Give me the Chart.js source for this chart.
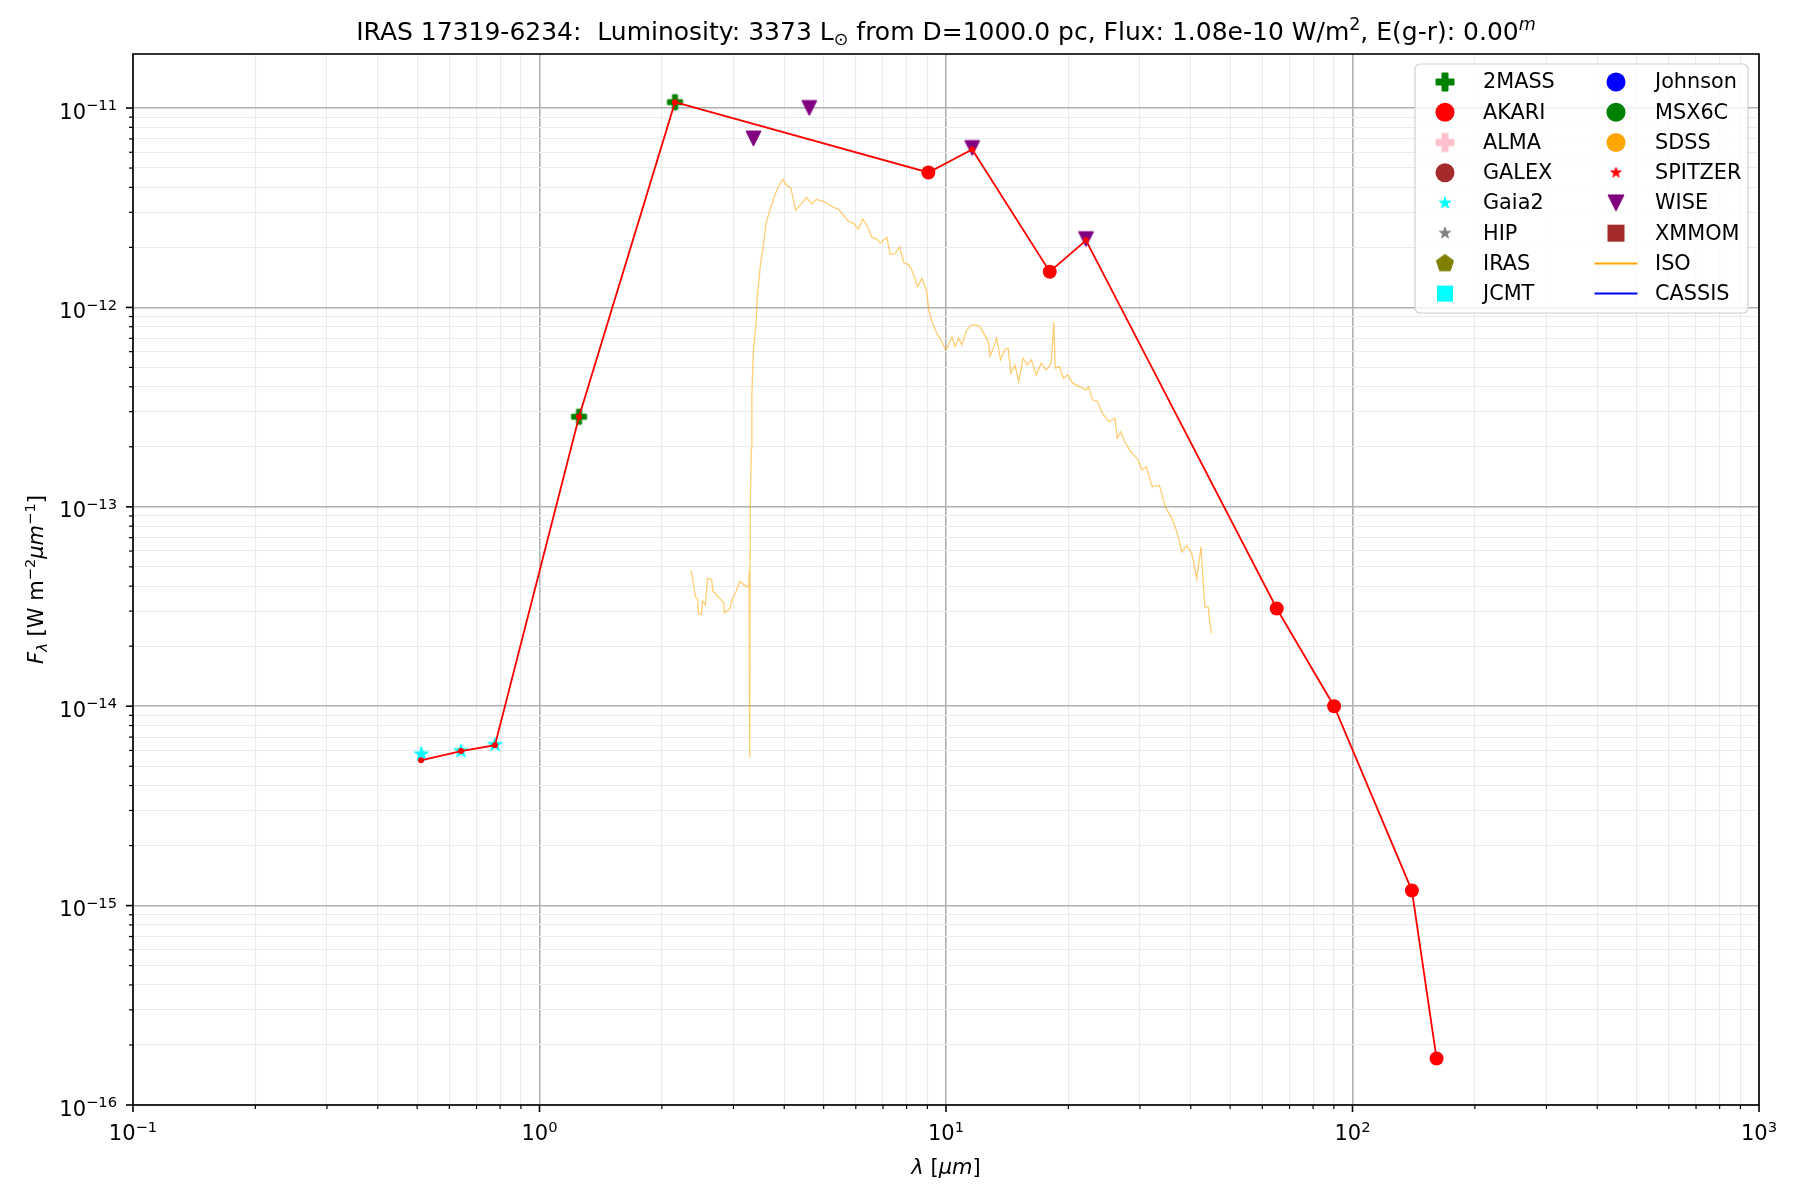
<!DOCTYPE html>
<html>
<head>
<meta charset="utf-8">
<script src="https://cdn.jsdelivr.net/npm/chart.js@4.4.0/dist/chart.umd.min.js"></script>
<style>
  body { margin: 0; background: #fff; }
  canvas { display: block; }
</style>
</head>
<body>
<canvas id="chart" width="1800" height="1200"></canvas>
<script>
// ---- data (wavelength in micron, flux in W m^-2 um^-1) ----
const sedWave = [0.511, 0.641, 0.777, 1.251, 2.154, 9.05, 11.6, 18.0, 22.1, 65.1, 90.1, 140, 161];
const sedFlux = [5.35e-15, 5.96e-15, 6.38e-15, 2.83e-13, 1.07e-11, 4.75e-12, 6.2e-12, 1.51e-12, 2.17e-12, 3.09e-14, 1.0e-14, 1.19e-15, 1.71e-16];

const tmassWave = [1.251, 2.154];
const tmassFlux = [2.83e-13, 1.07e-11];

const akariWave = [9.05, 18.0, 65.1, 90.1, 140, 161];
const akariFlux = [4.75e-12, 1.51e-12, 3.09e-14, 1.0e-14, 1.19e-15, 1.71e-16];

const gaiaWave = [0.512, 0.641, 0.777];
const gaiaFlux = [5.75e-15, 5.96e-15, 6.41e-15];

const wiseWave = [3.36, 4.61, 11.6, 22.1];
const wiseFlux = [7.03e-12, 1.0e-11, 6.3e-12, 2.2e-12];

const isoWave = [2.36, 2.39, 2.42, 2.45, 2.46, 2.50, 2.52, 2.56, 2.59, 2.65, 2.67, 2.84, 2.85, 2.94, 2.98,
  3.05, 3.11, 3.19, 3.27, 3.28, 3.29, 3.295, 3.30, 3.32, 3.33, 3.36, 3.38, 3.41, 3.43, 3.47, 3.50, 3.55,
  3.61, 3.68, 3.79, 3.88, 3.97, 4.05, 4.15, 4.27, 4.37, 4.54, 4.67, 4.80, 4.99, 5.13, 5.28, 5.43, 5.59,
  5.75, 5.92, 6.09, 6.24, 6.38, 6.57, 6.76, 6.89, 7.15, 7.29, 7.50, 7.69, 7.87, 8.09, 8.25, 8.52, 8.73,
  8.95, 9.07, 9.24, 9.51, 9.78, 9.97,
  10.06, 10.34, 10.54, 10.74, 10.94, 11.25, 11.57, 11.79, 12.13, 12.36, 12.71, 12.83, 13.07, 13.32, 13.62,
  13.96, 14.22, 14.44, 14.77, 15.10, 15.47, 15.82, 16.21, 16.68, 17.15, 17.64, 18.15, 18.42, 18.56, 19.01,
  19.45, 19.93, 20.49, 21.28, 22.09, 22.42, 22.93, 23.59, 24.26, 25.18, 26.05, 26.39, 26.89, 27.65, 28.71,
  29.53, 30.37, 31.07, 32.14, 33.49, 34.64, 35.96, 36.99, 38.04, 39.13, 40.24, 41.39, 42.40, 42.95, 43.36,
  44.18, 44.60, 45.02];
const isoFlux = [4.82e-14, 4.14e-14, 3.53e-14, 3.45e-14, 2.94e-14, 2.87e-14, 3.37e-14, 3.22e-14, 4.38e-14, 4.33e-14, 3.78e-14, 3.30e-14, 2.94e-14, 3.08e-14, 3.45e-14,
  3.78e-14, 4.24e-14, 4.05e-14, 3.95e-14, 4.75e-14, 5.55e-15, 5.7e-14, 1.03e-13, 1.96e-13, 3.71e-13, 6.14e-13, 6.88e-13, 8.26e-13, 1.11e-12, 1.40e-12, 1.68e-12, 2.01e-12,
  2.65e-12, 3.04e-12, 3.65e-12, 4.09e-12, 4.38e-12, 4.09e-12, 3.99e-12, 3.06e-12, 3.25e-12, 3.56e-12, 3.31e-12, 3.48e-12, 3.40e-12, 3.31e-12, 3.18e-12, 3.11e-12, 2.90e-12,
  2.71e-12, 2.65e-12, 2.47e-12, 2.77e-12, 2.59e-12, 2.25e-12, 2.20e-12, 2.10e-12, 2.25e-12, 1.84e-12, 1.86e-12, 2.01e-12, 1.68e-12, 1.64e-12, 1.53e-12, 1.27e-12, 1.40e-12,
  1.22e-12, 9.68e-13, 8.45e-13, 7.36e-13, 6.71e-13, 6.13e-13,
  6.25e-13, 7.10e-13, 6.37e-13, 7.02e-13, 6.50e-13, 7.72e-13, 8.18e-13, 8.18e-13, 8.02e-13, 7.43e-13, 6.74e-13, 5.68e-13, 6.25e-13, 7.02e-13, 5.46e-13,
  6.13e-13, 6.25e-13, 4.68e-13, 5.15e-13, 4.25e-13, 5.56e-13, 5.15e-13, 5.46e-13, 4.59e-13, 5.25e-13, 4.86e-13, 5.25e-13, 8.41e-13, 4.96e-13, 5.05e-13,
  4.41e-13, 4.59e-13, 4.17e-13, 4.01e-13, 3.86e-13, 4.01e-13, 3.44e-13, 3.38e-13, 2.94e-13, 2.67e-13, 2.78e-13, 2.20e-13, 2.38e-13, 2.08e-13, 1.85e-13,
  1.75e-13, 1.53e-13, 1.59e-13, 1.26e-13, 1.28e-13, 1.00e-13, 8.73e-14, 7.48e-14, 5.94e-14, 6.41e-14, 5.82e-14, 4.36e-14, 6.30e-14, 4.12e-14, 3.14e-14,
  3.14e-14, 2.59e-14, 2.31e-14];

// axis decades and their exponent labels
const xDecades = [0.1, 1, 10, 100, 1000];
const xDecadeLabels = ['\u22121', '0', '1', '2', '3'];
const yDecades = [1e-16, 1e-15, 1e-14, 1e-13, 1e-12, 1e-11];
const yDecadeLabels = ['\u221216', '\u221215', '\u221214', '\u221213', '\u221212', '\u221211'];
const xMin = 0.1, xMax = 1000, yMin = 1e-16, yMax = 1.866e-11;

const FONT = '"DejaVu Sans", "Liberation Sans", sans-serif';

// ---- matplotlib-like marker glyphs ----
function markerCanvas(shape, size, color) {
  const c = document.createElement('canvas');
  c.width = c.height = Math.ceil(size) + 4;
  const g = c.getContext('2d');
  const m = c.width / 2, r = size / 2;
  g.fillStyle = color;
  g.strokeStyle = color;
  g.lineWidth = 1;
  g.beginPath();
  if (shape === 'plus') {
    const t = r / 3;
    const pts = [[-t, -r], [t, -r], [t, -t], [r, -t], [r, t], [t, t], [t, r], [-t, r], [-t, t], [-r, t], [-r, -t], [-t, -t]];
    pts.forEach((p, i) => i ? g.lineTo(m + p[0], m + p[1]) : g.moveTo(m + p[0], m + p[1]));
  } else if (shape === 'star') {
    for (let i = 0; i < 10; i++) {
      const a = -Math.PI / 2 + i * Math.PI / 5;
      const rr = i % 2 ? r * 0.381966 : r;
      const px = m + rr * Math.cos(a), py = m + rr * Math.sin(a);
      i ? g.lineTo(px, py) : g.moveTo(px, py);
    }
  } else if (shape === 'pentagon') {
    for (let i = 0; i < 5; i++) {
      const a = -Math.PI / 2 + i * 2 * Math.PI / 5;
      const px = m + r * Math.cos(a), py = m + r * Math.sin(a);
      i ? g.lineTo(px, py) : g.moveTo(px, py);
    }
  } else if (shape === 'square') {
    g.rect(m - r, m - r, size, size);
  } else if (shape === 'tri') {
    g.moveTo(m - r, m - r);
    g.lineTo(m + r, m - r);
    g.lineTo(m, m + r);
  }
  g.closePath();
  g.fill();
  if (shape !== 'square') g.stroke();
  return c;
}

function pts(wave, flux) {
  return wave.map((w, i) => ({ x: w, y: flux[i] }));
}

// catalogue entries in legend order
const catalogs = [
  { label: '2MASS', wave: tmassWave, flux: tmassFlux, color: '#008000', shape: 'plus', size: 15, lsize: 18 },
  { label: 'AKARI', wave: akariWave, flux: akariFlux, color: '#ff0000', shape: 'circle', size: 14, lsize: 19 },
  { label: 'ALMA', wave: [], flux: [], color: '#ffc0cb', shape: 'plus', size: 15, lsize: 18 },
  { label: 'GALEX', wave: [], flux: [], color: '#a52a2a', shape: 'circle', size: 14, lsize: 19 },
  { label: 'Gaia2', wave: gaiaWave, flux: gaiaFlux, color: '#00ffff', shape: 'star', size: 15, lsize: 12 },
  { label: 'HIP', wave: [], flux: [], color: '#808080', shape: 'star', size: 14, lsize: 12 },
  { label: 'IRAS', wave: [], flux: [], color: '#808000', shape: 'pentagon', size: 16, lsize: 18 },
  { label: 'JCMT', wave: [], flux: [], color: '#00ffff', shape: 'square', size: 14, lsize: 16 },
  { label: 'Johnson', wave: [], flux: [], color: '#0000ff', shape: 'circle', size: 14, lsize: 19 },
  { label: 'MSX6C', wave: [], flux: [], color: '#008000', shape: 'circle', size: 14, lsize: 19 },
  { label: 'SDSS', wave: [], flux: [], color: '#ffa500', shape: 'circle', size: 14, lsize: 19 },
  { label: 'SPITZER', wave: [], flux: [], color: '#ff0000', shape: 'star', size: 12, lsize: 11 },
  { label: 'WISE', wave: wiseWave, flux: wiseFlux, color: '#800080', shape: 'tri', size: 15, lsize: 16 },
  { label: 'XMMOM', wave: [], flux: [], color: '#a52a2a', shape: 'square', size: 14, lsize: 17 },
];

const datasets = [];
datasets.push({
  data: pts(sedWave, sedFlux),
  showLine: true,
  borderColor: '#ff0000',
  borderWidth: 1.8,
  pointRadius: 3,
  pointBackgroundColor: '#ff0000',
  pointBorderWidth: 0,
  order: 0,
});
catalogs.forEach(c => {
  const ds = {
    label: c.label,
    data: pts(c.wave, c.flux),
    showLine: false,
    order: 1,
    legendColor: c.color,
    legendShape: c.shape,
    legendSize: c.lsize,
  };
  if (c.shape === 'circle') {
    ds.pointStyle = 'circle';
    ds.pointRadius = c.size / 2;
    ds.pointBackgroundColor = c.color;
    ds.pointBorderColor = c.color;
    ds.pointBorderWidth = 0;
  } else {
    ds.pointStyle = markerCanvas(c.shape, c.size, c.color);
    ds.pointRadius = c.size / 2;
  }
  datasets.push(ds);
});
datasets.push({
  label: 'ISO',
  data: pts(isoWave, isoFlux),
  showLine: true,
  borderColor: 'rgba(255,165,0,0.55)',
  borderWidth: 1.3,
  pointRadius: 0,
  order: 2,
  legendLine: '#ffa500',
});
datasets.push({
  label: 'CASSIS',
  data: [],
  showLine: true,
  borderColor: '#0000ff',
  borderWidth: 1.3,
  pointRadius: 0,
  order: 2,
  legendLine: '#0000ff',
});

// ---- mathtext-ish rich text ----
function setFont(ctx, kind, size) {
  const small = kind.startsWith('sup') || kind.startsWith('sub');
  const it = kind.endsWith('i');
  ctx.font = (it ? 'italic ' : '') + (small ? size * 0.7 : size) + 'px ' + FONT;
}
function drawRich(ctx, parts, x, y, align, size) {
  let w = 0;
  parts.forEach(p => { setFont(ctx, p[1], size); w += ctx.measureText(p[0]).width; });
  let cx = align === 'center' ? x - w / 2 : align === 'right' ? x - w : x;
  ctx.textAlign = 'left';
  ctx.textBaseline = 'alphabetic';
  parts.forEach(p => {
    setFont(ctx, p[1], size);
    let dy = 0;
    if (p[1].startsWith('sup')) dy = -0.4 * size;
    if (p[1].startsWith('sub')) dy = 0.2 * size;
    ctx.fillText(p[0], cx, y + dy);
    cx += ctx.measureText(p[0]).width;
  });
}

function logTicks(decades, max) {
  const ticks = [];
  decades.forEach(d => {
    ticks.push({ value: d, major: true });
    for (let k = 2; k <= 9; k++) {
      if (k * d <= max) ticks.push({ value: k * d, major: false });
    }
  });
  return ticks.filter(t => t.value <= max);
}

const gridOpts = {
  drawTicks: false,
  color: c => (c.tick && c.tick.major) ? '#b0b0b0' : '#ebebeb',
  lineWidth: c => (c.tick && c.tick.major) ? 1.6 : 1.1,
};

// ticks, labels, frame and title
const axesPlugin = {
  id: 'axesDecor',
  afterDraw(chart) {
    const ctx = chart.ctx;
    const a = chart.chartArea;
    const xs = chart.scales.x, ys = chart.scales.y;
    ctx.save();
    ctx.strokeStyle = '#000';
    xs.ticks.forEach(t => {
      const px = xs.getPixelForValue(t.value);
      ctx.lineWidth = t.major ? 1.6 : 1.2;
      ctx.beginPath();
      ctx.moveTo(px, a.bottom);
      ctx.lineTo(px, a.bottom + (t.major ? 7 : 4));
      ctx.stroke();
    });
    ys.ticks.forEach(t => {
      const py = ys.getPixelForValue(t.value);
      ctx.lineWidth = t.major ? 1.6 : 1.2;
      ctx.beginPath();
      ctx.moveTo(a.left, py);
      ctx.lineTo(a.left - (t.major ? 7 : 4), py);
      ctx.stroke();
    });
    ctx.lineWidth = 1.6;
    ctx.strokeRect(a.left, a.top, a.right - a.left, a.bottom - a.top);

    ctx.fillStyle = '#000';
    xDecades.forEach((d, i) => {
      drawRich(ctx, [['10', ''], [xDecadeLabels[i], 'sup']], xs.getPixelForValue(d), a.bottom + 35, 'center', 21);
    });
    yDecades.forEach((d, i) => {
      drawRich(ctx, [['10', ''], [yDecadeLabels[i], 'sup']], a.left - 16, ys.getPixelForValue(d) + 10.5, 'right', 21);
    });

    drawRich(ctx, [['\u03bb', 'i'], [' [', ''], ['\u03bcm', 'i'], [']', '']], (a.left + a.right) / 2, a.bottom + 69, 'center', 21);

    ctx.save();
    ctx.translate(43, (a.top + a.bottom) / 2);
    ctx.rotate(-Math.PI / 2);
    drawRich(ctx, [['F', 'i'], ['\u03bb', 'subi'], [' [W m', ''], ['\u22122', 'sup'], ['\u03bcm', 'i'], ['\u22121', 'sup'], [']', '']], 0, 0, 'center', 21);
    ctx.restore();

    drawRich(ctx, [
      ['IRAS 17319-6234:  Luminosity: 3373 L', ''], ['\u2299', 'sub'],
      [' from D=1000.0 pc, Flux: 1.08e-10 W/m', ''], ['2', 'sup'],
      [', E(g-r): 0.00', ''], ['m', 'supi'],
    ], (a.left + a.right) / 2, 40, 'center', 25);
    ctx.restore();
  }
};

const legendPlugin = {
  id: 'sedLegend',
  afterDraw(chart) {
    const ctx = chart.ctx;
    const a = chart.chartArea;
    const right = a.right - 11, top = a.top + 10, w = 333, h = 249;
    const left = right - w;
    ctx.save();
    ctx.beginPath();
    ctx.roundRect(left, top, w, h, 5);
    ctx.fillStyle = 'rgba(255,255,255,0.8)';
    ctx.fill();
    ctx.strokeStyle = '#d0d0d0';
    ctx.lineWidth = 1.2;
    ctx.stroke();
    const items = chart.data.datasets.filter(d => d.label);
    items.forEach((d, i) => {
      const col = Math.floor(i / 8), row = i % 8;
      const mx = left + (col ? 201 : 30);
      const tx = left + (col ? 240 : 68);
      const y = top + 18 + row * 30.23;
      if (d.legendLine) {
        ctx.strokeStyle = d.legendLine;
        ctx.lineWidth = 2;
        ctx.beginPath();
        ctx.moveTo(mx - 21.5, y);
        ctx.lineTo(mx + 21.5, y);
        ctx.stroke();
      } else if (d.legendShape === 'circle') {
        ctx.fillStyle = d.legendColor;
        ctx.beginPath();
        ctx.arc(mx, y, d.legendSize / 2, 0, Math.PI * 2);
        ctx.fill();
      } else {
        const img = markerCanvas(d.legendShape, d.legendSize, d.legendColor);
        ctx.drawImage(img, mx - img.width / 2, y - img.height / 2);
      }
      ctx.fillStyle = '#000';
      ctx.font = '20.8px ' + FONT;
      ctx.textAlign = 'left';
      ctx.textBaseline = 'middle';
      ctx.fillText(d.label, tx, y + 1);
    });
    ctx.restore();
  }
};

new Chart(document.getElementById('chart').getContext('2d'), {
  type: 'scatter',
  data: { datasets },
  options: {
    responsive: false,
    animation: false,
    devicePixelRatio: 1,
    layout: { padding: { top: 54, right: 41, left: 0, bottom: 0 } },
    plugins: {
      legend: { display: false },
      tooltip: { enabled: false },
      title: { display: false },
    },
    elements: { line: { tension: 0 } },
    scales: {
      x: {
        type: 'logarithmic',
        min: xMin,
        max: xMax,
        afterBuildTicks: s => { s.ticks = logTicks(xDecades, xMax); },
        afterFit: s => { s.height = 95; },
        ticks: { display: false, autoSkip: false },
        grid: gridOpts,
        border: { display: false },
      },
      y: {
        type: 'logarithmic',
        min: yMin,
        max: yMax,
        afterBuildTicks: s => { s.ticks = logTicks(yDecades, yMax); },
        afterFit: s => { s.width = 133; },
        ticks: { display: false, autoSkip: false },
        grid: gridOpts,
        border: { display: false },
      },
    },
  },
  plugins: [axesPlugin, legendPlugin],
});
</script>
</body>
</html>
